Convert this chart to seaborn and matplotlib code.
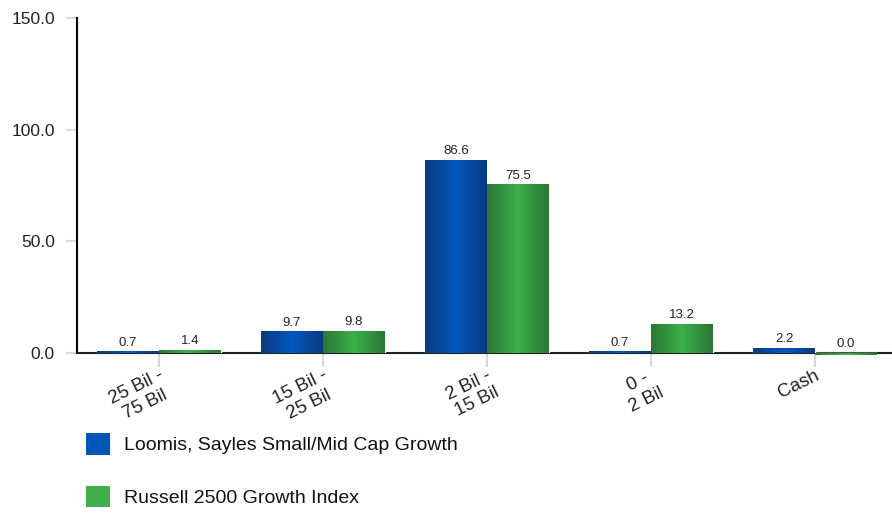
import numpy as np
import pandas as pd
import matplotlib
matplotlib.use("Agg")
import matplotlib.pyplot as plt
import seaborn as sns
from matplotlib.colors import LinearSegmentedColormap
from matplotlib.patches import Patch

# data
categories = ["25 Bil -\n75 Bil", "15 Bil -\n25 Bil", "2 Bil -\n15 Bil", "0 -\n2 Bil", "Cash"]
series_names = ["Loomis, Sayles Small/Mid Cap Growth", "Russell 2500 Growth Index"]
loomis = [0.7, 9.7, 86.6, 0.7, 2.2]
russell = [1.4, 9.8, 75.5, 13.2, 0.0]
y_ticks = [0, 50, 100, 150]

sns.set_theme(style="white")
plt.rcParams["font.family"] = ["Liberation Sans", "DejaVu Sans"]

df = pd.DataFrame({
    "cat": categories * 2,
    "series": [series_names[0]] * 5 + [series_names[1]] * 5,
    "value": loomis + russell,
})

blue, green = "#0057B8", "#3DAE49"
grads = [
    LinearSegmentedColormap.from_list("b", ["#0a3a82", "#0059bd", "#0a3a82"]),
    LinearSegmentedColormap.from_list("g", ["#2a7633", "#3db04c", "#2a7633"]),
]

fig = plt.figure(figsize=(8.92, 5.14), dpi=100)
ax = fig.add_axes([77 / 892, 1 - 353 / 514, 820 / 892, 335 / 514])

sns.barplot(data=df, x="cat", y="value", hue="series", palette=[blue, green],
            width=0.756, dodge=True, legend=False, ax=ax, saturation=1)

# gradient fill for each bar
grad = np.linspace(0, 1, 256).reshape(1, -1)
for i, cont in enumerate(ax.containers):
    vals = loomis if i == 0 else russell
    for bar, v in zip(cont, vals):
        x0, w = bar.get_x(), bar.get_width()
        h = v if v > 0 else -0.9
        bar.set_height(h)
        bar.set_zorder(3)
        im = ax.imshow(grad, cmap=grads[i], aspect="auto",
                       extent=[x0, x0 + w, min(0, h), max(0, h)], zorder=3.1)
        im.set_clip_path(bar)
        ax.text(x0 + w / 2, max(v, 0) + 1.2, f"{v:.1f}", ha="center", va="bottom",
                fontsize=9.5, color="#222222")

ax.set_xlim(-0.5, 4.5)
ax.set_ylim(0, 150)
ax.set_yticks(y_ticks)
ax.set_yticklabels([f"{t:.1f}" for t in y_ticks], fontsize=12.5, color="#222222")
ax.set_xticks(range(5))
ax.set_xticklabels(categories, rotation=26, ha="right", rotation_mode="anchor",
                   fontsize=13.5, color="#222222", multialignment="center",
                   linespacing=1.15)
ax.set_xlabel("")
ax.set_ylabel("")
ax.tick_params(axis="y", length=8, width=1.5, color="#d9d9d9", left=True, pad=8)
ax.tick_params(axis="x", length=10, width=1.5, color="#d9d9d9", bottom=True, pad=0)

for side in ["top", "right"]:
    ax.spines[side].set_visible(False)
ax.spines["left"].set_color("black")
ax.spines["left"].set_linewidth(1.5)
ax.spines["bottom"].set_color("#222222")
ax.spines["bottom"].set_linewidth(1.5)
ax.spines["bottom"].set_zorder(2.5)

handles = [Patch(facecolor=blue, edgecolor="none"), Patch(facecolor=green, edgecolor="none")]
fig.legend(handles, series_names, loc="upper left", bbox_to_anchor=(76 / 892, 1 - 423 / 514),
           frameon=False, fontsize=14, handlelength=1.25, handleheight=1.35,
           handletextpad=0.7, labelspacing=1.6, borderpad=0, labelcolor="#111111")

fig.savefig("out.png", dpi=100)
